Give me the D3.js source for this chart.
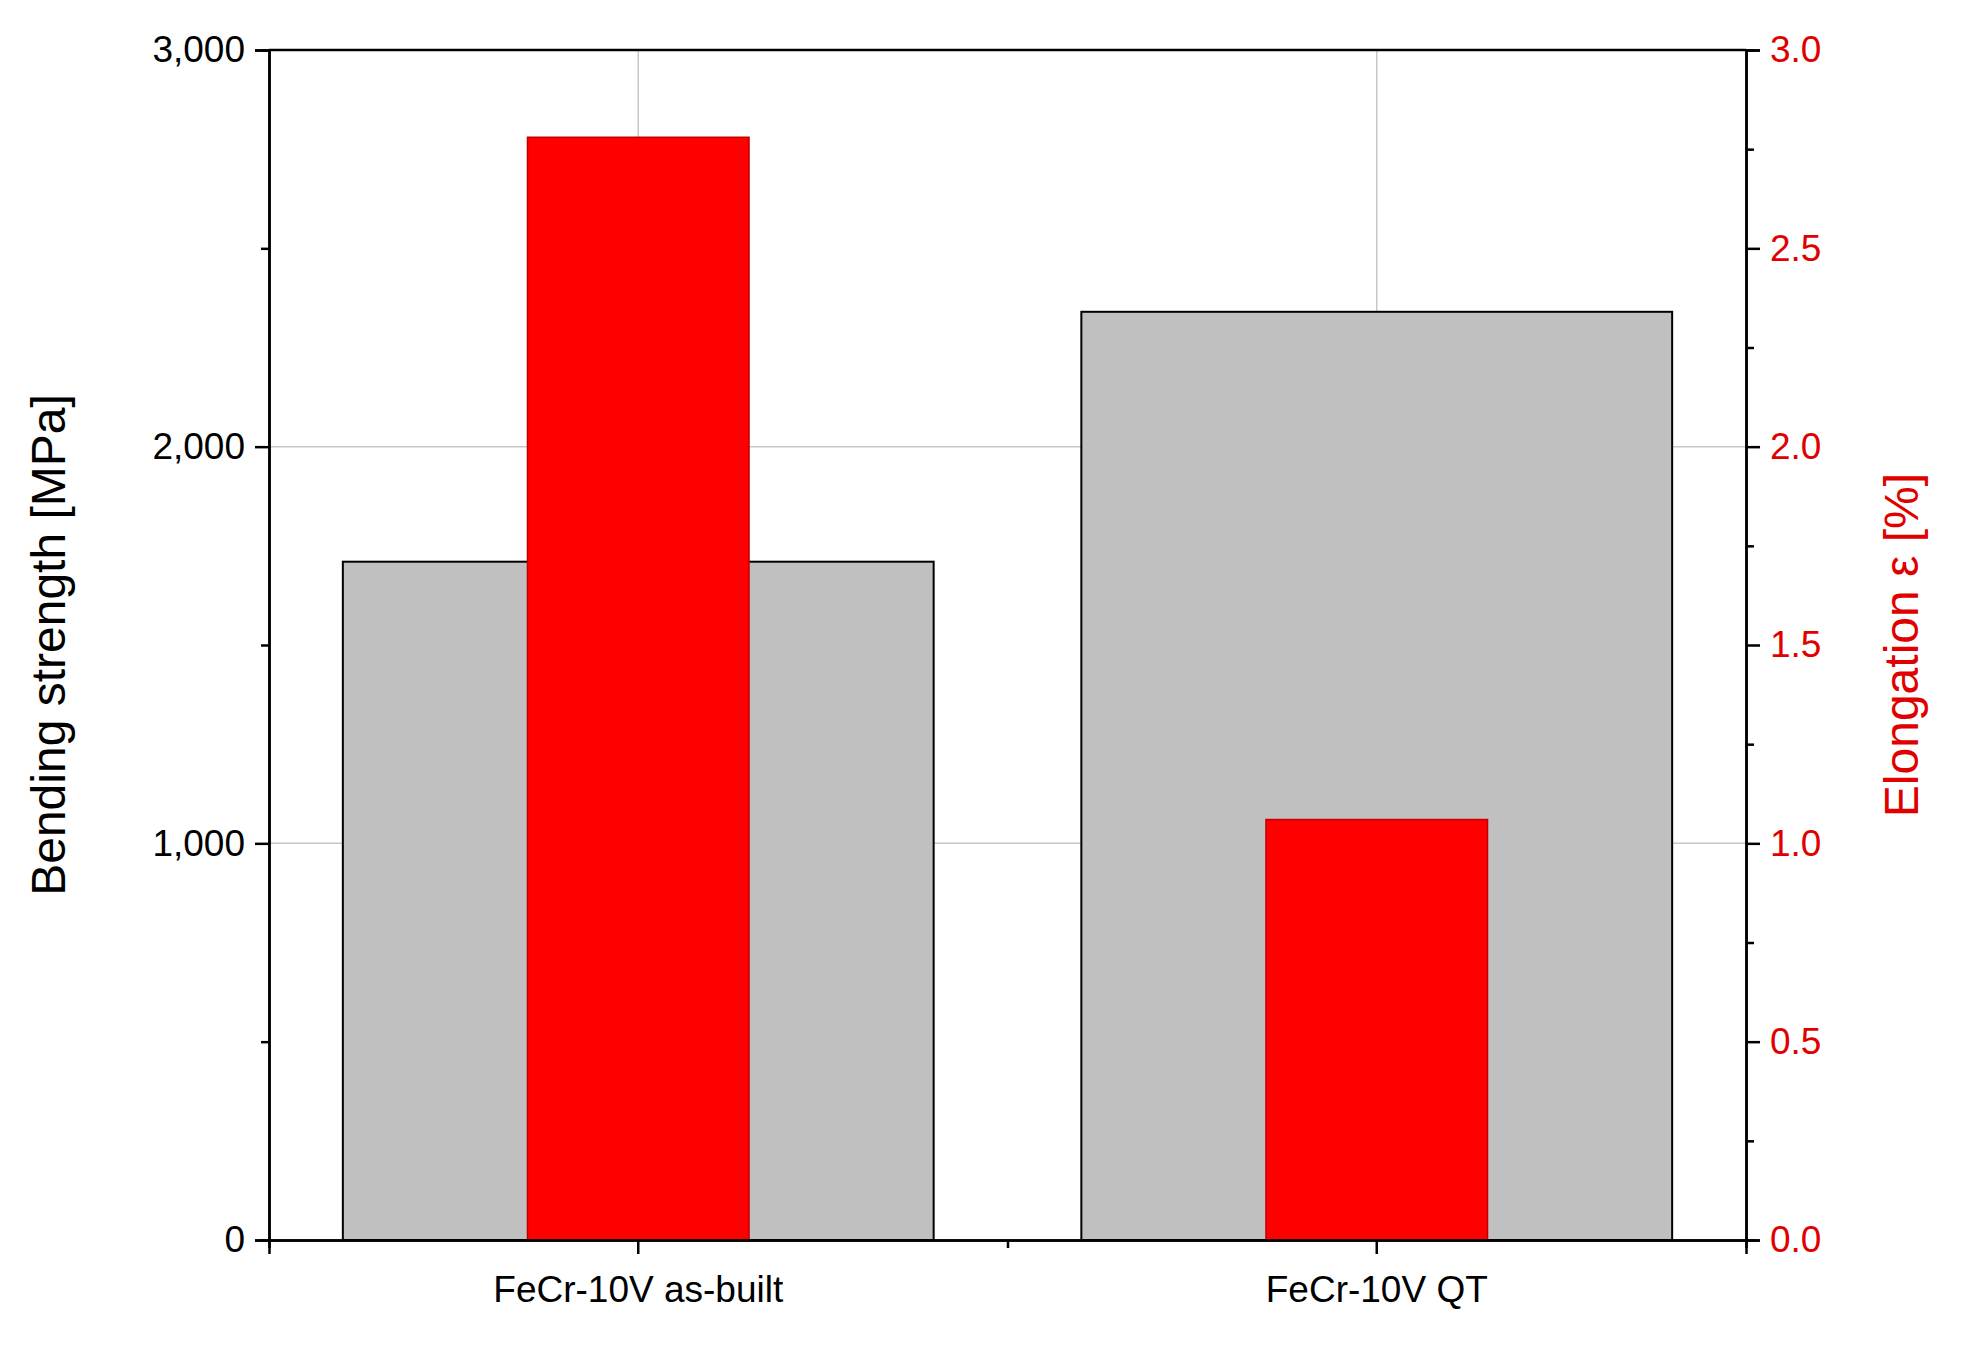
<!DOCTYPE html><html><head><meta charset="utf-8"><script src="https://cdn.jsdelivr.net/npm/d3@7"></script>
<style>body{margin:0;background:#fff}text{font-family:"Liberation Sans",Arial,sans-serif}</style></head><body>
<svg id="c" width="1962" height="1350"></svg>
<script>
const categories=["FeCr-10V as-built","FeCr-10V QT"];
const strength=[1710,2340];
const elongation=[2.78,1.06];
const leftTicks=[0,1000,2000,3000];
const rightTicks=[0,0.5,1,1.5,2,2.5,3];
const svg=d3.select("#c");
const L=269,R=1746,T=50,B=1240;
const x=d3.scaleBand().domain(categories).range([L,R]).padding(0);
const yL=d3.scaleLinear().domain([0,3000]).range([B,T]);
const yR=d3.scaleLinear().domain([0,3]).range([B,T]);
const g=svg.append("g");
// grid
[1000,2000].forEach(v=>g.append("line").attr("x1",L).attr("x2",R).attr("y1",yL(v)).attr("y2",yL(v)).attr("stroke","#c8c8c8").attr("stroke-width",1.5));
categories.forEach(c=>g.append("line").attr("x1",x(c)+x.bandwidth()/2).attr("x2",x(c)+x.bandwidth()/2).attr("y1",T).attr("y2",B).attr("stroke","#c8c8c8").attr("stroke-width",1.5));
const bw=x.bandwidth();
g.selectAll(".g").data(categories).enter().append("rect")
 .attr("x",c=>x(c)+bw*0.1).attr("width",bw*0.8)
 .attr("y",(c,i)=>yL(strength[i])).attr("height",(c,i)=>B-yL(strength[i]))
 .attr("fill","#c0c0c0").attr("stroke","#000").attr("stroke-width",2);
g.selectAll(".r").data(categories).enter().append("rect")
 .attr("x",c=>x(c)+bw*0.35).attr("width",bw*0.3)
 .attr("y",(c,i)=>yR(elongation[i])).attr("height",(c,i)=>B-yR(elongation[i]))
 .attr("fill","#ff0000").attr("stroke","#c00000").attr("stroke-width",1.5);
// frame top
g.append("line").attr("x1",L).attr("x2",R).attr("y1",T).attr("y2",T).attr("stroke","#000").attr("stroke-width",2.5);
// left axis
const la=svg.append("g").attr("transform",`translate(${L},0)`).call(d3.axisLeft(yL).tickValues(leftTicks).tickSize(14).tickPadding(10));
svg.append("g").attr("transform",`translate(${L},0)`).call(d3.axisLeft(yL).tickValues([500,1500,2500]).tickSize(8).tickFormat(""));
// right axis
const ra=svg.append("g").attr("transform",`translate(${R},0)`).call(d3.axisRight(yR).tickValues(rightTicks).tickSize(14).tickPadding(10).tickFormat(d3.format(".1f")));
svg.append("g").attr("transform",`translate(${R},0)`).call(d3.axisRight(yR).tickValues([0.25,0.75,1.25,1.75,2.25,2.75]).tickSize(8).tickFormat(""));
// bottom axis
const ba=svg.append("g").attr("transform",`translate(0,${B})`).call(d3.axisBottom(x).tickSize(14).tickPadding(22));
svg.append("g").attr("transform",`translate(0,${B})`).call(d3.axisBottom(d3.scaleLinear().domain([0,1]).range([L,R])).tickValues([0.5]).tickSize(8).tickFormat(""));
svg.selectAll(".domain").attr("stroke","#000").attr("stroke-width",2.5);
svg.selectAll(".tick line").attr("stroke","#000").attr("stroke-width",2.5);
svg.selectAll(".tick text").style("font-size","37px").attr("fill","#000");
ra.selectAll(".tick text").attr("fill","#e00000");
ra.select(".domain").attr("stroke","#000");
svg.append("text").attr("transform",`translate(65,${(T+B)/2}) rotate(-90)`).attr("text-anchor","middle").style("font-size","48px").text("Bending strength [MPa]");
svg.append("text").attr("transform",`translate(1918,${(T+B)/2}) rotate(-90)`).attr("text-anchor","middle").style("font-size","48px").attr("fill","#e00000").text("Elongation ε [%]");
</script></body></html>
